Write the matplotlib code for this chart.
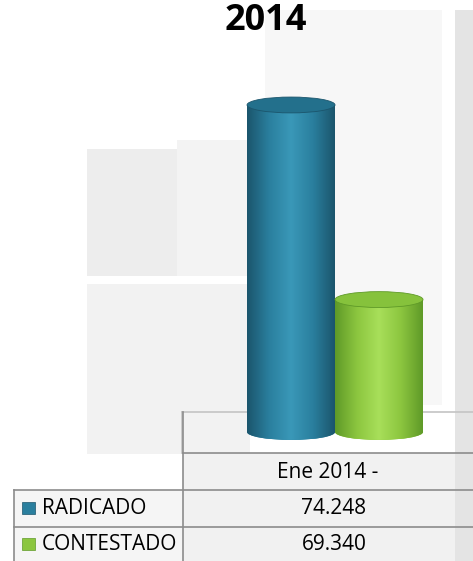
import matplotlib
matplotlib.use("Agg")
import matplotlib.pyplot as plt
import numpy as np
from matplotlib.patches import Rectangle, Ellipse
from matplotlib.lines import Line2D
from matplotlib.colors import LinearSegmentedColormap

# ---- data ----
title = "2014"
category = "Ene 2014 -"
series = ["RADICADO", "CONTESTADO"]
values = [74248, 69340]
value_labels = ["74.248", "69.340"]

colors = ["#2a7f9e", "#8cc63f"]
dark = ["#1b556c", "#5f9a28"]
light = ["#3a98b8", "#a8df5a"]
top_cols = ["#23708c", "#86c23c"]

W, H = 473, 561
fig = plt.figure(figsize=(W / 100, H / 100), dpi=100)
fig.patch.set_facecolor("white")
FONT = ["Open Sans", "DejaVu Sans"]


def fx(px):
    return px / W


def fy(py):
    return 1 - py / H


# background decoration (light grey panels) on a background axes
bgax = fig.add_axes([0, 0, 1, 1], zorder=-5)
bgax.set_xlim(0, W)
bgax.set_ylim(H, 0)
bgax.axis("off")
bg = [
    (265, 10, 177, 395, "#f7f7f7"),
    (87, 149, 90, 127, "#ededed"),
    (177, 140, 88, 136, "#f3f3f3"),
    (87, 284, 163, 170, "#f2f2f2"),
    (455, 10, 18, 551, "#e4e4e4"),
    (183, 453, 272, 108, "#f1f1f1"),
    (14, 490, 169, 71, "#f5f5f5"),
]
for x0, y0, w, h, c in bg:
    bgax.add_patch(Rectangle((x0, y0), w, h, facecolor=c, edgecolor="none"))


def fline(x0, y0, x1, y1, c="#8c8c8c", lw=1.2):
    bgax.add_line(Line2D([x0, x1], [y0, y1], color=c, lw=lw, zorder=3))


# floor box
fline(182, 412, 473, 412, "#c4c4c4", 1.2)
fline(182, 412, 182, 453, "#c4c4c4", 1.2)

# ---- bars axes ----
ymin = 66000
px_per_unit = 0.03965
ax_bottom_px = 446
ax_top_px = 60
ax = fig.add_axes([fx(182), 1 - ax_bottom_px / H, 291 / W,
                   (ax_bottom_px - ax_top_px) / H], zorder=2)
ax.axis("off")
ax.patch.set_alpha(0)

ell_h = 400
xs = np.arange(len(values))
bars = ax.bar(xs, [v - ymin for v in values], bottom=ymin, width=1.0,
              color=colors, edgecolor="none", zorder=2)

for i, (b, v) in enumerate(zip(bars, values)):
    cmap = LinearSegmentedColormap.from_list(
        "c%d" % i, [dark[i], colors[i], light[i], colors[i], dark[i]])
    grad = np.linspace(0, 1, 256).reshape(1, -1)
    x0 = b.get_x()
    w = b.get_width()
    be = Ellipse((x0 + w / 2, ymin), w, ell_h, facecolor=colors[i],
                 edgecolor="none", zorder=2)
    ax.add_patch(be)
    for clip in (b, be):
        im = ax.imshow(grad, cmap=cmap, aspect="auto",
                       extent=(x0, x0 + w, ymin - ell_h, v), zorder=3)
        im.set_clip_path(clip)
    te = Ellipse((x0 + w / 2, v), w, ell_h, facecolor=top_cols[i],
                 edgecolor=dark[i], lw=0.6, zorder=4)
    ax.add_patch(te)

ax.set_xlim(-1.239, 2.068)
ax.set_ylim(ymin - (ax_bottom_px - 432) / px_per_unit,
            ymin + (432 - ax_top_px) / px_per_unit)

# ---- title ----
fig.text(fx(266), fy(30), title, ha="center", va="baseline",
         fontsize=26, fontweight="bold", family=FONT, color="black",
         zorder=5)

# ---- data table ----
fline(183, 453, 473, 453)
fline(14, 490, 473, 490)
fline(14, 527, 473, 527)
fline(183, 412, 183, 561)
fline(14, 490, 14, 561)

fig.text(fx(328), fy(472), category, ha="center", va="center",
         fontsize=15, family=FONT, color="black", zorder=5)
rows_y = [508, 544]
for i, (s, lab) in enumerate(zip(series, value_labels)):
    y = rows_y[i]
    bgax.add_patch(Rectangle((22, y - 6), 13, 12, facecolor=colors[i],
                             edgecolor=dark[i], lw=0.5, zorder=4))
    fig.text(fx(42), fy(y), s, ha="left", va="center", fontsize=15,
             family=FONT, color="black", zorder=5)
    fig.text(fx(334), fy(y), lab, ha="center", va="center", fontsize=15,
             family=FONT, color="black", zorder=5)

fig.savefig("out.png", dpi=100)
